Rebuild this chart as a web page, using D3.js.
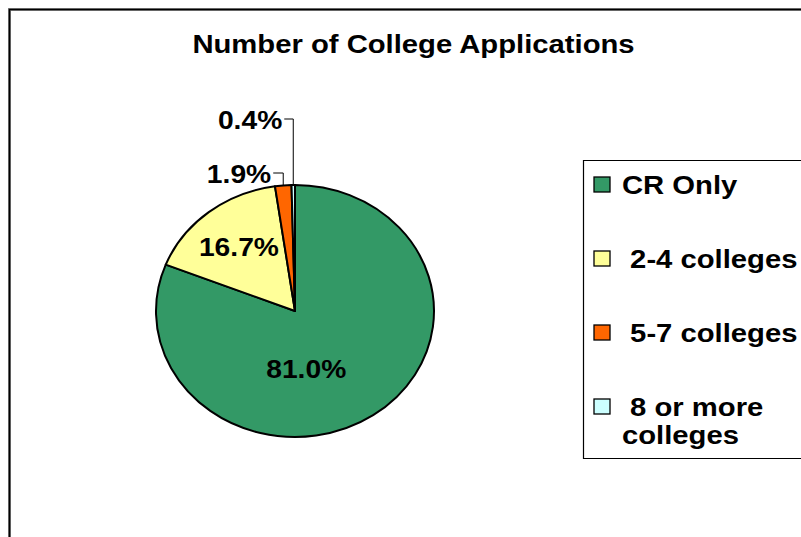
<!DOCTYPE html>
<html><head><meta charset="utf-8">
<script src="https://cdn.jsdelivr.net/npm/d3@7"></script>
<style>
html,body{margin:0;padding:0;background:#fff;}
svg{display:block;}
text{font-family:"Liberation Sans",Arial,sans-serif;font-weight:bold;fill:#000;}
</style></head>
<body>
<script>
// ---- data ----
const title = "Number of College Applications";
const categories = ["CR Only", " 2-4 colleges", " 5-7 colleges", " 8 or more"];
const legendSecondLine = ["", "", "", "colleges"];
const values = [81.0, 16.7, 1.9, 0.4];
const valueLabels = ["81.0%", "16.7%", "1.9%", "0.4%"];
const colors = ["#339966", "#FFFF99", "#FF6600", "#CCFFFF"];

const W = 801, H = 537;
const svg = d3.select("body").append("svg").attr("width", W).attr("height", H);

// chart border
svg.append("path").attr("d", `M9.5,${H+5} V9.5 H${W+5}`).attr("fill","none")
  .attr("stroke","#888").attr("stroke-width",3);
svg.append("path").attr("d", `M9.5,${H+5} V9.5 H${W+5}`).attr("fill","none")
  .attr("stroke","#000").attr("stroke-width",1.6);

function stext(g, x, y, str, size, scaleX, anchor) {
  return g.append("text")
    .attr("transform", `translate(${x},${y}) scale(${scaleX},1)`)
    .attr("font-size", size)
    .attr("text-anchor", anchor || "start")
    .attr("xml:space","preserve")
    .text(str);
}

// title
stext(svg, 413.5, 53, title, 25, 1.17, "middle");

// pie
const cx = 295, cy = 311, rx = 139, ry = 126;
const pie = d3.pie().sort(null).value(d => d)(values);
const arc = d3.arc().innerRadius(0).outerRadius(rx);
const gPie = svg.append("g").attr("transform", `translate(${cx},${cy}) scale(1,${ry/rx})`);
gPie.selectAll("path").data(pie).enter().append("path")
  .attr("d", arc)
  .attr("fill", (d,i) => colors[i])
  .attr("stroke", "#000").attr("stroke-width", 2)
  .attr("stroke-linejoin", "round")
  .attr("vector-effect", "non-scaling-stroke");

// inside labels
const lsx = 1.13, lfs = 25;
[0, 1].forEach(i => {
  const d = pie[i];
  let ang = (d.startAngle + d.endAngle) / 2, r;
  if (i === 0) { ang = Math.PI * 0.945; r = rx * 0.47; } else { r = rx * 0.65; }
  const x = cx + r * Math.sin(ang);
  const y = cy - r * Math.cos(ang) * ry / rx;
  stext(svg, x, y + 9, valueLabels[i], lfs, lsx, "middle");
});

// outside labels with leader lines
const elbowRise = [0, 0, 12, 66];
const elbowRun = [0, 0, 10, 9];
[2, 3].forEach(i => {
  const d = pie[i];
  const ang = (d.startAngle + d.endAngle) / 2;
  const ex = cx + rx * Math.sin(ang);
  const ey = cy - ry * Math.cos(ang);
  const ly = cy - ry - elbowRise[i];
  const lx = ex - elbowRun[i];
  svg.append("path").attr("d", `M${ex},${ey} L${ex},${ly} L${lx},${ly}`)
    .attr("fill","none").attr("stroke","#000").attr("stroke-width",1);
  stext(svg, lx - 2, ly + 9.5, valueLabels[i], lfs, lsx, "end");
});

// legend
const lg = svg.append("g");
lg.append("path").attr("d", `M${W+5},160.5 H583.5 V458.5 H${W+5}`).attr("fill","#fff")
  .attr("stroke","#000").attr("stroke-width",1.2);
const legY = d3.scalePoint().domain(categories).range([185, 407]);
categories.forEach((c, i) => {
  const y = legY(c);
  lg.append("rect").attr("x", 594).attr("y", y - 8).attr("width", 16).attr("height", 15)
    .attr("fill", colors[i]).attr("stroke","#000").attr("stroke-width",1.3);
  stext(lg, 622, y + 9, c, 25, 1.17, "start");
  if (legendSecondLine[i]) stext(lg, 622, y + 37, legendSecondLine[i], 25, 1.17, "start");
});
</script>
</body></html>
